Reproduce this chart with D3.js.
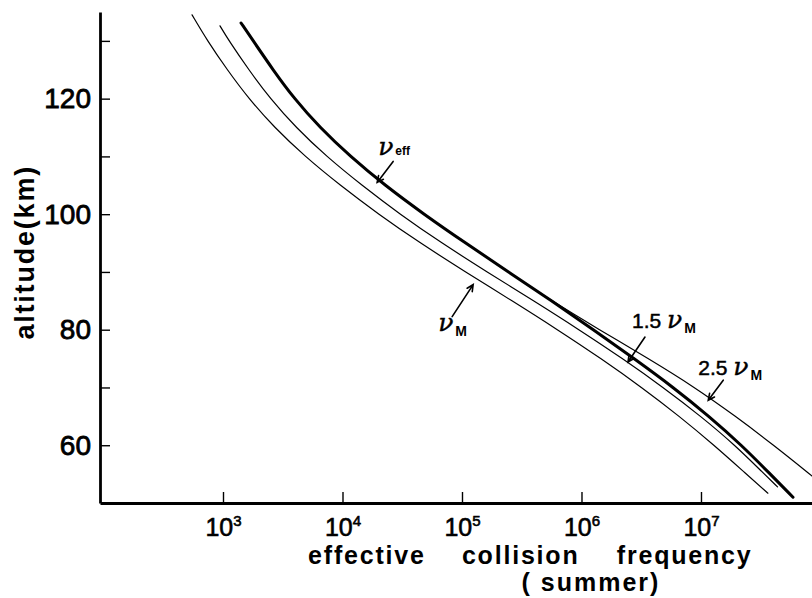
<!DOCTYPE html>
<html><head><meta charset="utf-8">
<script src="https://cdn.jsdelivr.net/npm/d3@7"></script>
<style>body{margin:0;background:#fff;} svg{display:block;background:#fff}</style>
</head><body><svg id="c" width="812" height="598"></svg>
<script>
// ---- data (altitude km, effective collision frequency s^-1) ----
const altitudeM   = [134.5,130,125,120,115,110,105,100,95,90,85,80,75,70,65,60,55,51.7];
const nuM         = [551,741,1084,1641,2692,4842,9550,2.0e4,4.47e4,1.07e5,2.63e5,6.31e5,1.46e6,3.20e6,6.61e6,1.29e7,2.40e7,3.63e7];
const altitude15  = [132.6,130,125,120,115,110,105,100,95,90,85,80,75,70,65,60,55,52.8];
const nu15M       = [944,1122,1641,2483,4074,7328,1.45e4,3.02e4,6.76e4,1.62e5,3.98e5,9.55e5,2.21e6,4.84e6,1.0e7,1.93e7,3.39e7,4.37e7];
const altitude25  = [133.1,130,125,120,115,110,105,100,95,90,85,80,75,70,65,60,55,52];
const nu25M       = [1416,1791,2618,3945,6457,1.16e4,2.26e4,4.79e4,1.07e5,2.45e5,5.62e5,1.41e6,3.63e6,8.91e6,1.95e7,4.07e7,8.13e7,1.23e8];
const altitudeEff = [133.1,130,125,120,115,110,105,100,95,90,85,80,75,70,65,60,55,51.0];
const nuEff       = [1416,1791,2618,3945,6457,1.16e4,2.26e4,4.79e4,1.07e5,2.45e5,5.62e5,1.26e6,2.75e6,5.89e6,1.17e7,2.19e7,3.80e7,5.89e7];

const xTickValues = [1e3,1e4,1e5,1e6,1e7];
const xTickExponents = ["3","4","5","6","7"];
const yTickValues = [60,70,80,90,100,110,120,130];
const yTickLabels = ["60","","80","","100","","120",""];
const xTitleWords = ["effective","collision","frequency"];
const xTitleWordFreq = [1.6e4, 3.1e5, 7.3e6];
const xTitleLine2 = "( summer)";
const xTitleLine2Freq = 1.2e6;
const yTitle = "altitude(km)";
const yTitleAlt = 93.4;

// annotations: prefix, subscript, arrow tip (freq, altitude)
const annoPrefix = ["", "", "1.5 ", "2.5 "];
const annoSub    = ["eff", "M", "M", "M"];
const annoTipF   = [1.95e4, 1.24e5, 2.45e6, 1.15e7];
const annoTipAlt = [105.5, 87.8, 74.4, 67.8];

// ---- layout ----
const svg = d3.select("#c");
const mLeft = 100, mRight = 812, mTop = 12, mBottom = 503;
const x = d3.scaleLog().domain([Math.pow(10,1.9707), Math.pow(10,7.929)]).range([mLeft,mRight]);
const y = d3.scaleLinear().domain([50,135]).range([mBottom,mTop]);
const FONT = "'Liberation Sans', Arial, sans-serif";

// curves
const line = d3.line().x(d=>x(d[1])).y(d=>y(d[0])).curve(d3.curveBasis);
const series = [
  {alt: altitudeM, f: nuM, w: 1.2},
  {alt: altitude15, f: nu15M, w: 1.2},
  {alt: altitude25, f: nu25M, w: 1.2},
  {alt: altitudeEff, f: nuEff, w: 3}
];
svg.append("defs").append("clipPath").attr("id","clip")
  .append("rect").attr("x",mLeft).attr("y",0).attr("width",mRight-mLeft).attr("height",mBottom);
const g = svg.append("g").attr("clip-path","url(#clip)");
series.forEach(s=>{
  g.append("path").datum(d3.zip(s.alt, s.f)).attr("d", line)
   .attr("fill","none").attr("stroke","#000").attr("stroke-width", s.w)
   .attr("stroke-linecap","round");
});

// axes
const yAxis = d3.axisLeft(y).tickValues(yTickValues).tickSizeInner(-10).tickSizeOuter(0)
  .tickPadding(9).tickFormat((d,i)=>yTickLabels[i]);
const ya = svg.append("g").attr("transform",`translate(${mLeft},0)`).call(yAxis);
ya.select(".domain").attr("stroke-width",2.8);
ya.selectAll(".tick line").attr("stroke-width",1.4);
ya.selectAll(".tick text").attr("font-family",FONT).attr("font-size",28).attr("font-weight","normal")
  .attr("fill","#000").style("stroke","#000").style("stroke-width",0.8);

const xAxis = d3.axisBottom(x).tickValues(xTickValues).tickSizeInner(-11).tickSizeOuter(0).tickFormat("");
const xa = svg.append("g").attr("transform",`translate(0,${mBottom})`).call(xAxis);
xa.select(".domain").attr("stroke-width",2.8);
xa.selectAll(".tick line").attr("stroke-width",1.4);
xa.selectAll(".tick").append("text")
  .attr("y",33).attr("text-anchor","middle").attr("fill","#000")
  .attr("font-family",FONT).attr("font-size",25)
  .style("stroke","#000").style("stroke-width",0.6)
  .each(function(d,i){
    const t = d3.select(this);
    t.append("tspan").text("10");
    t.append("tspan").attr("font-size",15).attr("dy",-10).text(xTickExponents[i]);
  });

// axis titles
svg.append("g").selectAll("text").data(xTitleWords).join("text")
  .attr("x",(d,i)=>x(xTitleWordFreq[i])).attr("y",564).attr("text-anchor","middle")
  .attr("font-family",FONT).attr("font-size",25).attr("font-weight","bold")
  .attr("letter-spacing",1.8).text(d=>d);
svg.append("text").attr("x",x(xTitleLine2Freq)).attr("y",591).attr("text-anchor","middle")
  .attr("font-family",FONT).attr("font-size",25).attr("font-weight","bold")
  .attr("letter-spacing",2).attr("xml:space","preserve").text(xTitleLine2);
svg.append("text").attr("transform",`translate(34,${y(yTitleAlt)}) rotate(-90)`)
  .attr("text-anchor","middle").attr("font-family",FONT).attr("font-size",27)
  .attr("font-weight","bold").attr("letter-spacing",1.8).text(yTitle);

// annotations
const tailDX = [16,-21,17,15], tailDY = [-21,32,-25,-20];
const labDX = [1,-35,4,-10], labDY = [-27,46,-34,-25];
annoTipF.forEach((f,i)=>{
  const tx = x(f), ty = y(annoTipAlt[i]);
  const sx = tx + tailDX[i], sy = ty + tailDY[i];
  const ang = Math.atan2(ty-sy, tx-sx);
  const a = 7, spread = 0.45;
  const p1 = [tx - a*Math.cos(ang-spread), ty - a*Math.sin(ang-spread)];
  const p2 = [tx - a*Math.cos(ang+spread), ty - a*Math.sin(ang+spread)];
  svg.append("path").attr("d",`M${sx},${sy}L${tx},${ty}M${p1}L${tx},${ty}L${p2}`)
    .attr("fill","none").attr("stroke","#000").attr("stroke-width",1.6).attr("stroke-linecap","round");
  const t = svg.append("text").attr("x",tx+labDX[i]).attr("y",ty+labDY[i]).attr("fill","#000");
  if (annoPrefix[i]) t.append("tspan").attr("font-family",FONT).attr("font-size",21)
      .attr("xml:space","preserve").style("stroke","#000").style("stroke-width",0.5).text(annoPrefix[i]);
  t.append("tspan").attr("font-family","'DejaVu Serif', serif").attr("font-style","italic")
    .attr("font-size",25).style("stroke","#000").style("stroke-width",0.4).text("ν");
  const isEff = annoSub[i]==="eff";
  t.append("tspan").attr("font-family",FONT).attr("font-weight","bold")
    .attr("font-size", isEff?12:14).attr("dx",2).attr("dy", isEff?0:5).text(annoSub[i]);
});
</script></body></html>
